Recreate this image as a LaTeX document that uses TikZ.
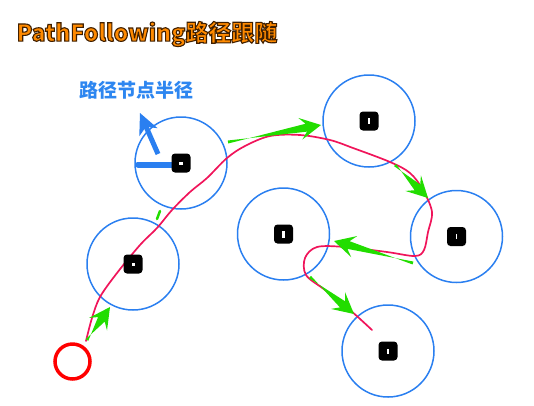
\documentclass[tikz,border=0pt]{standalone}
\usepackage{fontspec}
\newfontfamily\cjk{Noto Sans CJK SC}
\usetikzlibrary{calc}
\definecolor{ringblue}{HTML}{2A7FF0}
\definecolor{pathred}{HTML}{F0145A}
\definecolor{arrowgreen}{HTML}{22DD00}
\definecolor{titleorange}{HTML}{FF8A00}
\definecolor{labelblue}{HTML}{2D86F0}
\newcommand\outl[2]{\special{pdf:literal direct #1 RG 1.1 w 2 Tr}#2\special{pdf:literal direct 0 Tr}}
\newcommand\brusharrow[3]{% color, tail, tip
  \coordinate (hb) at ($(#3)!15pt!(#2)$);
  \coordinate (hw) at ($(#3)!21pt!(#2)$);
  \fill[#1] ($(#2)!1.5pt!90:(#3)$) -- ($(hb)!4pt!-90:(#3)$) -- ($(hw)!11pt!-90:(#3)$) -- (#3)
    -- ($(hw)!11pt!90:(#3)$) -- ($(hb)!4pt!90:(#3)$) -- ($(#2)!1.5pt!-90:(#3)$) -- cycle;}
\tikzset{
  ring/.style={circle, draw=ringblue, line width=1.5pt, minimum size=92pt, inner sep=0pt},
  marker/.style={fill=black, rounded corners=3.5pt, minimum size=19pt, inner sep=0pt},
  redpath/.style={draw=pathred, line width=1.7pt, line cap=round},
}
\begin{document}
\begin{tikzpicture}[x=1pt,y=-1pt]
\useasboundingbox (0,0) rectangle (534,405);
% rings
\node[ring] (r1) at (181,163) {};
\node[ring] (r2) at (133,264) {};
\node[ring] (r3) at (369,121) {};
\node[ring] (r4) at (456.5,236.5) {};
\node[ring] (r5) at (283.5,234) {};
\node[ring] (r6) at (388,351) {};
% start circle
\node[circle, draw=red, line width=3.5pt, minimum size=35pt, inner sep=0pt] (start) at (72.5,361.5) {};
% radius bar
\coordinate (barl) at (138,164.5);
\coordinate (barr) at (172,164.5);
\draw[ringblue, line width=6pt, line cap=round] (barl) -- (barr);
% blue arrow
\coordinate (bt) at (158,154);
\coordinate (bh) at (140,113);
\draw[ringblue, line width=5pt] (bt) -- ($(bh)!15pt!(bt)$);
\fill[ringblue] (bh) -- ($($(bh)!21pt!(bt)$)!10pt!90:(bt)$) -- ($(bh)!15pt!(bt)$) -- ($($(bh)!21pt!(bt)$)!10pt!-90:(bt)$) -- cycle;
% red path
\draw[redpath] plot[smooth, tension=0.55] coordinates {
(86,341) (92,318) (100,297) (117,273) (140,245) (157,228) (172,210) (190,192) (207,178) (227,158)
(245,146) (270,136) (300,135) (330,140) (353,148) (390,162) (410,173) (423,190) (432,212) (428,232)
(424,250) (415,256) (387,252) (345,247) (317,247) (305,258) (306,275) (325,290) (350,310) (372,330)};
% green arrows
\coordinate (g1t) at (87,340);  \coordinate (g1h) at (110,307);
\coordinate (g3t) at (228,142); \coordinate (g3h) at (321,125);
\coordinate (g4t) at (395,165); \coordinate (g4h) at (428,198);
\coordinate (g5t) at (413,263); \coordinate (g5h) at (334,241);
\coordinate (g6t) at (310,277); \coordinate (g6h) at (354,314);
\brusharrow{arrowgreen}{g1t}{g1h}
\brusharrow{arrowgreen}{g3t}{g3h}
\brusharrow{arrowgreen}{g4t}{g4h}
\brusharrow{arrowgreen}{g5t}{g5h}
\brusharrow{arrowgreen}{g6t}{g6h}
\coordinate (g2a) at (157,219); \coordinate (g2b) at (160,211);
\draw[arrowgreen, line width=2.5pt, line cap=round] (g2a) -- (g2b);
% markers
\node[marker] (m1) at (r1.center) {};
\node[marker] (m2) at (r2.center) {};
\node[marker] (m3) at (r3.center) {};
\node[marker] (m4) at (r4.center) {};
\node[marker] (m5) at (r5.center) {};
\node[marker] (m6) at (r6.center) {};
\fill[white] ($(m1)+(-2,-1.5)$) rectangle +(4,3);
\fill[white] ($(m2)+(-1.5,-1.5)$) rectangle +(3,3);
\fill[white] ($(m3)+(-1.2,-3)$) rectangle +(2.4,6);
\fill[white] ($(m4)+(-0.8,-2.5)$) rectangle +(1.6,5);
\fill[white] ($(m5)+(-1.5,-3.5)$) rectangle +(3,7);
\fill[white] ($(m6)+(-0.8,-2.5)$) rectangle +(1.6,5);
% texts
\node[font=\cjk\bfseries\fontsize{23}{23}\selectfont, text=titleorange, inner sep=0pt] (title) at (147,34) {\outl{0.25 0.12 0}{PathFollowing路径跟随}};
\node[font=\cjk\bfseries\fontsize{19}{19}\selectfont, text=labelblue, inner sep=0pt] (label) at (136,90) {路径节点半径};
\end{tikzpicture}
\end{document}
